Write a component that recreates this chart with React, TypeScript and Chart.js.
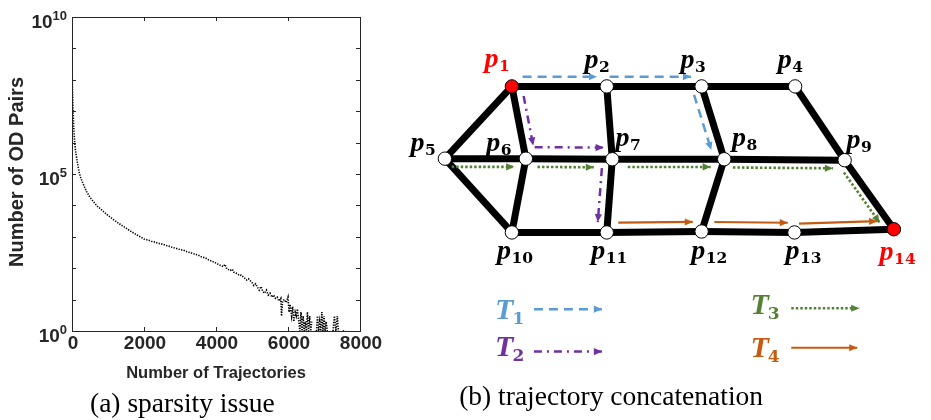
import React, { useEffect, useRef } from "react";
import { Chart, registerables } from "chart.js";

Chart.register(...registerables);

// ---------------- (a) sparsity issue ----------------
const trajCounts: number[] = [
  1, 3, 6, 10, 15, 20, 30, 40, 50, 60, 75, 100, 130, 160, 200, 250, 300, 400, 500, 600,
  700, 800, 900, 1000, 1200, 1400, 1600, 1800, 1900, 2000, 2100, 2200, 2300, 2400, 2500,
  2600, 2700, 2800, 2900, 3000, 3100, 3200, 3300, 3400, 3500, 3600, 3700, 3800, 3900, 4000,
  4100, 4200, 4250, 4300, 4400, 4450, 4500, 4600, 4650, 4700, 4800, 4850, 4900, 5000, 5050,
  5100, 5150, 5200, 5250, 5300, 5350, 5400, 5450, 5500, 5550, 5600, 5650, 5700, 5750, 5800,
  5820, 5850, 5900, 5950, 6000, 6030, 6060, 6100, 6130, 6160, 6200, 6230, 6260, 6300, 6330,
  6360, 6390, 6420, 6450, 6480, 6510, 6540, 6570, 6600, 6630, 6660, 6700, 6790, 6820, 6850,
  6880, 6910, 6940, 6970, 7000, 7030, 7060, 7090, 7110, 7250, 7290, 7330, 7370, 7400, 7450,
  7520, 7600,
];
const odPairs: (number | null)[] = [
  5.0e8, 2.5e8, 1.26e8, 7.1e7, 4.0e7, 2.5e7, 1.0e7, 5.0e6, 2.8e6, 1.8e6, 1.0e6, 5.2e5, 3.2e5,
  2.0e5, 1.12e5, 7.1e4, 5.2e4, 2.8e4, 1.8e4, 1.3e4, 9500, 7600, 6000, 4800, 3200, 2240, 1580,
  1150, 1000, 851, 794, 724, 676, 617, 589, 537, 501, 457, 427, 389, 372, 331, 309, 282, 263,
  229, 214, 182, 166, 145, 126, 112, 132, 95, 85, 93, 74, 66, 58, 60, 48, 42, 46, 35, 28, 32,
  25, 20, 26, 18, 16, 20, 14, 16, 12, 14, 11, 12, 9, 11, 3, 9, 10, 8, 12, 4, 7, 3, 6, 2, 4, 3,
  5, 2, 1, 4, 1, 3, 1, 2, 1, 4, 1, 3, 1, 2, null, 1, 3, 1, 2, 1, 4, 1, 3, 1, 2, 1, null, 1, 3,
  1, 3, 1, null, 1, 1,
];
const xTickValues = [0, 2000, 4000, 6000, 8000];
const xTickLabels = ["0", "2000", "4000", "6000", "8000"];
const yDecades = [0, 1, 2, 3, 4, 5, 6, 7, 8, 9, 10];
const yLabelDecades = [0, 5, 10];
const xTitle = "Number of Trajectories";
const yTitle = "Number of OD Pairs";
const captionA = "(a) sparsity issue";

// ---------------- (b) trajectory concatenation ----------------
const nodeNames = ["1", "2", "3", "4", "5", "6", "7", "8", "9", "10", "11", "12", "13", "14"];
const nodeX = [507.3, 605, 702.7, 799, 438.3, 521.7, 610.7, 726, 850, 507.3, 605, 702.7, 798.3, 900.7];
const nodeY = [81.7, 81.7, 81.7, 81.7, 156.7, 156.7, 157.3, 157.3, 158.3, 233.3, 233.3, 232.3, 233.3, 230];
const nodeRed = [true, false, false, false, false, false, false, false, false, false, false, false, false, true];
const edges: [number, number][] = [
  [1, 2], [2, 3], [3, 4], [1, 5], [1, 6], [2, 7], [3, 8], [4, 9], [5, 6], [6, 7], [7, 8],
  [8, 9], [5, 10], [6, 10], [7, 11], [8, 12], [9, 14], [10, 11], [11, 12], [12, 13], [13, 14],
];
const labelX = [479, 582, 681, 781, 403, 481, 614, 734, 852, 492, 589, 692, 789, 886];
const labelY = [62, 63, 63, 63, 149, 149, 144, 144, 146, 261, 261, 261, 261, 262];

const trajNames = ["1", "2", "3", "4"];
const trajColors = ["#5B9BD5", "#7030A0", "#548235", "#C55A11"];
const trajDashes = [[9, 6], [8, 5, 2, 5], [2.5, 2], []];
const trajWidths = [2.5, 2.5, 2.6, 2.2];
const trajPaths = [[1, 2, 3, 8], [1, 6, 7, 11], [5, 6, 7, 8, 9, 14], [11, 12, 13, 14]];
const trajSides = [[1, 1, -1], [1, 1, -1], [-1, -1, -1, -1, -1], [1, 1, 1]];
const trajOffsets = [[10, 10, 10], [10, 12, 10], [8.5, 8.5, 8, 8.5, 8], [10, 10, 9]];
const trajTrimStart = [[11, 3, 6], [12, 9, 10], [7, 12, 16, 9, 10], [12, 13, 5]];
const trajTrimEnd = [[10, 11, 13], [12, 9, 10], [12, 19, 14, 12, 14], [9, 7, 17]];

const legendTextX = [490, 490, 753, 753];
const legendTextY = [323, 362, 318, 363];
const legendArrowX1 = [530, 530, 795, 795];
const legendArrowX2 = [600, 600, 865, 863];
const legendArrowY = [313, 357, 312, 353];
const captionB = "(b) trajectory concatenation";

const SANS = "'Liberation Sans', Arial, sans-serif";
const SERIF = "'Liberation Serif', 'Times New Roman', serif";
const SUBSERIF = "'DejaVu Serif', serif";

function LeftChart() {
  const ref = useRef<HTMLCanvasElement>(null);
  useEffect(() => {
    const canvas = ref.current!;
    const points = trajCounts.map((x, i) => ({ x, y: odPairs[i] }));
    const axesPlugin = {
      id: "matlabAxes",
      afterDatasetsDraw(chart: any) {
        const { ctx, chartArea: a, scales } = chart;
        const xs = scales.x;
        const ys = scales.y;
        ctx.save();
        ctx.strokeStyle = "#262626";
        ctx.lineWidth = 1;
        ctx.beginPath();
        yDecades.forEach((d) => {
          const py = Math.round(ys.getPixelForValue(Math.pow(10, d))) + 0.5;
          ctx.moveTo(a.left, py);
          ctx.lineTo(a.left + 4, py);
          ctx.moveTo(a.right, py);
          ctx.lineTo(a.right - 4, py);
        });
        xTickValues.forEach((v) => {
          const px = Math.round(xs.getPixelForValue(v)) + 0.5;
          ctx.moveTo(px, a.bottom);
          ctx.lineTo(px, a.bottom - 4);
          ctx.moveTo(px, a.top);
          ctx.lineTo(px, a.top + 4);
        });
        ctx.stroke();
        ctx.strokeRect(
          Math.round(a.left) + 0.5,
          Math.round(a.top) + 0.5,
          Math.round(a.right) - Math.round(a.left),
          Math.round(a.bottom) - Math.round(a.top)
        );
        ctx.fillStyle = "#262626";
        // x tick labels
        ctx.font = `bold 19px ${SANS}`;
        ctx.textAlign = "center";
        ctx.textBaseline = "middle";
        xTickValues.forEach((v, i) => {
          ctx.fillText(xTickLabels[i], xs.getPixelForValue(v) + 1, a.bottom + 13);
        });
        // y tick labels 10^n
        ctx.textAlign = "left";
        ctx.textBaseline = "alphabetic";
        yLabelDecades.forEach((d) => {
          const py = ys.getPixelForValue(Math.pow(10, d));
          ctx.font = `bold 19px ${SANS}`;
          const bw = ctx.measureText("10").width;
          ctx.font = `bold 13px ${SANS}`;
          const sw = ctx.measureText(String(d)).width;
          const xr = 67;
          ctx.font = `bold 19px ${SANS}`;
          ctx.fillText("10", xr - sw - bw, py + 11);
          ctx.font = `bold 13px ${SANS}`;
          ctx.fillText(String(d), xr - sw, py + 2.5);
        });
        // axis titles
        ctx.font = `bold 16.5px ${SANS}`;
        ctx.textAlign = "center";
        ctx.textBaseline = "middle";
        ctx.fillText(xTitle, (a.left + a.right) / 2, 373);
        ctx.save();
        ctx.translate(17, (a.top + a.bottom) / 2 - 2);
        ctx.rotate(-Math.PI / 2);
        ctx.font = `bold 20px ${SANS}`;
        ctx.fillText(yTitle, 0, 0);
        ctx.restore();
        // caption
        ctx.fillStyle = "#000";
        ctx.font = `27.5px ${SERIF}`;
        ctx.textAlign = "left";
        ctx.textBaseline = "alphabetic";
        ctx.fillText(captionA, 90, 412);
        ctx.restore();
      },
    };
    const chart = new Chart(canvas, {
      type: "scatter",
      data: {
        datasets: [
          {
            data: points as any,
            showLine: true,
            spanGaps: false,
            borderColor: "#000",
            borderWidth: 1.6,
            borderDash: [1.3, 1.3],
            pointRadius: 0,
            fill: false,
          },
        ],
      },
      options: {
        animation: false,
        responsive: false,
        events: [],
        layout: { padding: { left: 72, right: 40, top: 17, bottom: 89 } },
        plugins: { legend: { display: false }, tooltip: { enabled: false } },
        scales: {
          x: { type: "linear", min: 0, max: 8000, display: false },
          y: { type: "logarithmic", min: 1, max: 1e10, display: false },
        },
      },
      plugins: [axesPlugin],
    });
    return () => chart.destroy();
  }, []);
  return (
    <canvas
      ref={ref}
      width={400}
      height={420}
      style={{ position: "absolute", left: 0, top: 0, width: 400, height: 420 }}
    />
  );
}

function trajSegments(t: number) {
  const segs: { x: number; y: number }[][] = [];
  const path = trajPaths[t];
  for (let k = 0; k < path.length - 1; k++) {
    const a = path[k] - 1;
    const b = path[k + 1] - 1;
    const ax = nodeX[a], ay = nodeY[a], bx = nodeX[b], by = nodeY[b];
    const len = Math.hypot(bx - ax, by - ay);
    const dx = (bx - ax) / len, dy = (by - ay) / len;
    const nx = dy, ny = -dx;
    const off = trajOffsets[t][k] * trajSides[t][k];
    const s = trajTrimStart[t][k], e = trajTrimEnd[t][k];
    segs.push([
      { x: ax + dx * s + nx * off, y: ay + dy * s + ny * off },
      { x: bx - dx * e + nx * off, y: by - dy * e + ny * off },
    ]);
  }
  return segs;
}

function RightChart() {
  const ref = useRef<HTMLCanvasElement>(null);
  useEffect(() => {
    const canvas = ref.current!;
    const datasets: any[] = [];
    edges.forEach(([a, b]) => {
      datasets.push({
        data: [
          { x: nodeX[a - 1], y: nodeY[a - 1] },
          { x: nodeX[b - 1], y: nodeY[b - 1] },
        ],
        showLine: true,
        borderColor: "#000",
        borderWidth: 7,
        borderCapStyle: "butt",
        pointRadius: 0,
        order: 3,
      });
    });
    trajNames.forEach((_, t) => {
      trajSegments(t).forEach((seg) => {
        datasets.push({
          data: seg,
          showLine: true,
          borderColor: trajColors[t],
          borderWidth: trajWidths[t],
          borderDash: trajDashes[t],
          pointRadius: 0,
          order: 2,
          arrow: true,
        });
      });
      datasets.push({
        data: [
          { x: legendArrowX1[t], y: legendArrowY[t] },
          { x: legendArrowX2[t], y: legendArrowY[t] },
        ],
        showLine: true,
        borderColor: trajColors[t],
        borderWidth: trajWidths[t],
        borderDash: trajDashes[t],
        pointRadius: 0,
        order: 2,
        arrow: true,
      });
    });
    datasets.push({
      data: nodeX.map((x, i) => ({ x, y: nodeY[i] })),
      showLine: false,
      pointRadius: 6.7,
      pointBackgroundColor: nodeRed.map((r) => (r ? "#FF0000" : "#FFFFFF")),
      pointBorderColor: "#000",
      pointBorderWidth: 1,
      order: 1,
    });

    const drawPlugin = {
      id: "diagramText",
      afterDatasetsDraw(chart: any) {
        const { ctx, scales } = chart;
        const xs = scales.x, ys = scales.y;
        ctx.save();
        // arrowheads
        chart.data.datasets.forEach((ds: any, i: number) => {
          if (!ds.arrow) return;
          const meta = chart.getDatasetMeta(i);
          const p0 = meta.data[0], p1 = meta.data[1];
          const ang = Math.atan2(p1.y - p0.y, p1.x - p0.x);
          const L = 8, W = 3.6;
          ctx.fillStyle = ds.borderColor;
          ctx.beginPath();
          ctx.moveTo(p1.x, p1.y);
          ctx.lineTo(p1.x - L * Math.cos(ang) + W * Math.sin(ang), p1.y - L * Math.sin(ang) - W * Math.cos(ang));
          ctx.lineTo(p1.x - L * Math.cos(ang) - W * Math.sin(ang), p1.y - L * Math.sin(ang) + W * Math.cos(ang));
          ctx.closePath();
          ctx.fill();
        });
        // node labels
        ctx.textAlign = "left";
        ctx.textBaseline = "alphabetic";
        nodeNames.forEach((n, i) => {
          const px = xs.getPixelForValue(labelX[i]);
          const py = ys.getPixelForValue(labelY[i]);
          ctx.fillStyle = nodeRed[i] ? "#FF0000" : "#000";
          ctx.font = `italic bold 28px ${SERIF}`;
          ctx.fillText("p", px, py);
          const w = ctx.measureText("p").width;
          ctx.font = `bold 15.5px ${SUBSERIF}`;
          ctx.fillText(n, px + w + 0.5, py + 4);
        });
        // legend labels
        trajNames.forEach((n, t) => {
          const px = xs.getPixelForValue(legendTextX[t]);
          const py = ys.getPixelForValue(legendTextY[t]);
          ctx.fillStyle = trajColors[t];
          ctx.font = `italic bold 30px ${SERIF}`;
          ctx.fillText("T", px, py);
          const w = ctx.measureText("T").width;
          ctx.font = `bold 17px ${SUBSERIF}`;
          ctx.fillText(n, px + w - 1, py + 5);
        });
        // caption
        ctx.fillStyle = "#000";
        ctx.font = `27.5px ${SERIF}`;
        ctx.fillText(captionB, xs.getPixelForValue(453), ys.getPixelForValue(412));
        ctx.restore();
      },
    };

    const chart = new Chart(canvas, {
      type: "scatter",
      data: { datasets },
      options: {
        animation: false,
        responsive: false,
        events: [],
        layout: { padding: 0 },
        plugins: { legend: { display: false }, tooltip: { enabled: false } },
        scales: {
          x: { type: "linear", min: 400, max: 931, display: false },
          y: { type: "linear", min: 0, max: 420, reverse: true, display: false },
        },
      },
      plugins: [drawPlugin],
    });
    return () => chart.destroy();
  }, []);
  return (
    <canvas
      ref={ref}
      width={531}
      height={420}
      style={{ position: "absolute", left: 400, top: 0, width: 531, height: 420 }}
    />
  );
}

export default function App() {
  return (
    <div
      style={{
        position: "absolute",
        left: 0,
        top: 0,
        width: 931,
        height: 420,
        background: "#fff",
        overflow: "hidden",
      }}
    >
      <LeftChart />
      <RightChart />
    </div>
  );
}
